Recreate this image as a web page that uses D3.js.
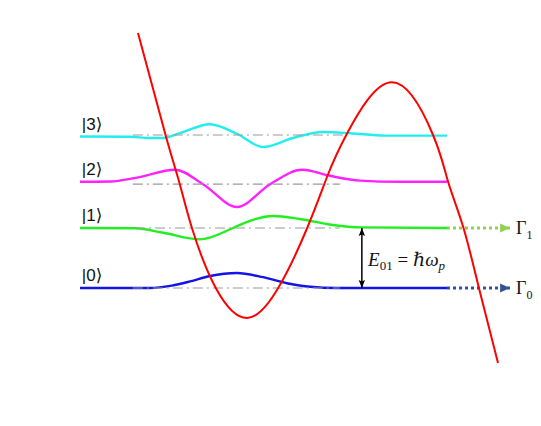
<!DOCTYPE html>
<html>
<head>
<meta charset="utf-8">
<script src="https://cdn.jsdelivr.net/npm/d3@7"></script>
<style>
  body { margin: 0; background: #fff; }
  svg { display: block; }
</style>
</head>
<body>
<div id="chart"></div>
<script>
// position x (arb. units), energy e (units of E01)
var potential = [
    [1.58, 4.25], [2.34, 2.53], [2.72, 1.73], [3.05, 1.0], [3.70, 0.0],
    [4.55, -0.5], [5.40, 0.0], [6.19, 1.0], [6.73, 1.85], [7.28, 2.58],
    [8.50, 3.43], [9.62, 2.55], [10.03, 1.77],
    [10.44, 1.02], [10.87, 0.0], [11.39, -1.25]
];

var levelNames = ["|0\u27E9", "|1\u27E9", "|2\u27E9", "|3\u27E9"];
var levelEnergy = [0, 1.0, 1.73, 2.55];
var levelColors = ["#1414e6", "#22ee22", "#ff22ff", "#22eeee"];
var levelExtent = [[1.44, 7.08], [1.50, 7.08], [1.44, 7.08], [1.44, 7.22]];

var psi0 = [[0, 0], [1.9, 0], [2.5, 0.04], [3.0, 0.11], [3.54, 0.20], [4.28, 0.25],
    [4.99, 0.18], [5.64, 0.08], [6.27, 0.02], [7.0, 0], [10, 0]];
var psi1 = [[0, 1], [1.50, 0.995], [2.27, 0.92], [3.27, 0.81], [4.17, 1.0], [4.63, 1.12],
    [5.26, 1.20], [5.99, 1.15], [6.89, 1.05], [7.63, 1.01], [10, 1]];
var psi2 = [[0, 1.77], [0.82, 1.775], [1.55, 1.84], [2.59, 1.97], [3.35, 1.73], [4.28, 1.35],
    [5.18, 1.73], [6.05, 1.97], [6.81, 1.87], [7.63, 1.79], [8.72, 1.77], [10, 1.77]];
var psi3 = [[0, 2.525], [1.36, 2.52], [1.91, 2.50], [2.26, 2.50], [2.72, 2.58], [3.54, 2.73],
    [4.28, 2.57], [4.99, 2.35], [5.80, 2.50], [6.62, 2.60], [7.36, 2.58], [8.31, 2.54], [10, 2.54]];
var wavefunctions = [psi0, psi1, psi2, psi3];

// tunnelling arrows
var gammaLevels = [0, 1];
var gammaColors = ["#2f5597", "#92d050"];
var gammaStart = 10, gammaEnd = 11.72;

var width = 541, height = 426;

var x = d3.scaleLinear().domain([0, 10]).range([80, 447]);
var y = d3.scaleLinear().domain([0, 1]).range([288, 228]);

var svg = d3.select("#chart").append("svg")
    .attr("width", width)
    .attr("height", height);

var defs = svg.append("defs");

// black arrowhead for E01
defs.append("marker")
    .attr("id", "blackhead")
    .attr("viewBox", "0 0 10 10")
    .attr("refX", 10).attr("refY", 5)
    .attr("markerUnits", "userSpaceOnUse")
    .attr("markerWidth", 8).attr("markerHeight", 8)
    .attr("orient", "auto-start-reverse")
    .append("path")
    .attr("d", "M0,1 L10,5 L0,9 L2,5 Z")
    .attr("fill", "#000");

gammaColors.forEach(function (c, i) {
    defs.append("marker")
        .attr("id", "ghead" + i)
        .attr("viewBox", "0 0 10 10")
        .attr("refX", 10).attr("refY", 5)
        .attr("markerUnits", "userSpaceOnUse")
        .attr("markerWidth", 10).attr("markerHeight", 10)
        .attr("orient", "auto")
        .append("path")
        .attr("d", "M0,0.5 L10,5 L0,9.5 Z")
        .attr("fill", c);
});

var waveLine = d3.line()
    .x(function (d) { return x(d[0]); })
    .y(function (d) { return y(d[1]); })
    .curve(d3.curveMonotoneX);

var potLine = d3.line()
    .x(function (d) { return x(d[0]); })
    .y(function (d) { return y(d[1]); })
    .curve(d3.curveNatural);

// wavefunctions
svg.selectAll(".psi")
    .data(wavefunctions)
    .enter().append("path")
    .attr("class", "psi")
    .attr("d", waveLine)
    .attr("fill", "none")
    .attr("stroke", function (d, i) { return levelColors[i]; })
    .attr("stroke-width", 2.4);

// dash-dot energy levels
svg.selectAll(".level")
    .data(levelEnergy)
    .enter().append("line")
    .attr("class", "level")
    .attr("x1", function (d, i) { return x(levelExtent[i][0]); })
    .attr("x2", function (d, i) { return x(levelExtent[i][1]); })
    .attr("y1", function (d) { return y(d); })
    .attr("y2", function (d) { return y(d); })
    .attr("stroke", "#9a9a9a")
    .attr("stroke-width", 1.2)
    .attr("stroke-dasharray", "10,4,2,4");

// state labels
svg.selectAll(".label")
    .data(levelNames)
    .enter().append("text")
    .attr("class", "label")
    .attr("x", x(0.05))
    .attr("y", function (d, i) { return y(wavefunctions[i][0][1]) - 7; })
    .style("font-family", "'Liberation Sans', 'DejaVu Sans', sans-serif")
    .style("font-size", "17px")
    .attr("fill", "#111")
    .text(function (d) { return d; });

// decay arrows
svg.selectAll(".gamma")
    .data(gammaLevels)
    .enter().append("line")
    .attr("class", "gamma")
    .attr("x1", x(gammaStart))
    .attr("x2", x(gammaEnd))
    .attr("y1", function (d) { return y(levelEnergy[d]); })
    .attr("y2", function (d) { return y(levelEnergy[d]); })
    .attr("stroke", function (d, i) { return gammaColors[i]; })
    .attr("stroke-width", 3)
    .attr("stroke-dasharray", "3,3")
    .attr("marker-end", function (d, i) { return "url(#ghead" + i + ")"; });

var gammaText = svg.selectAll(".gammatext")
    .data(gammaLevels)
    .enter().append("text")
    .attr("class", "gammatext")
    .attr("x", x(gammaEnd) + 6)
    .attr("y", function (d) { return y(levelEnergy[d]) + 6; })
    .style("font-family", "'Liberation Serif', 'DejaVu Serif', serif")
    .style("font-size", "18px")
    .attr("fill", "#111");
gammaText.append("tspan").text("\u0393");
gammaText.append("tspan")
    .attr("dy", 5)
    .style("font-size", "12px")
    .text(function (d) { return d; });

// potential
svg.append("path")
    .datum(potential)
    .attr("d", potLine)
    .attr("fill", "none")
    .attr("stroke", "#ff0000")
    .attr("stroke-width", 2);

// E01 arrow
var arrowX = 7.68;
svg.append("line")
    .attr("x1", x(arrowX)).attr("x2", x(arrowX))
    .attr("y1", y(levelEnergy[1])).attr("y2", y(levelEnergy[0]))
    .attr("stroke", "#000")
    .attr("stroke-width", 1.5)
    .attr("marker-start", "url(#blackhead)")
    .attr("marker-end", "url(#blackhead)");

var eText = svg.append("text")
    .attr("x", x(7.85))
    .attr("y", y(0.36))
    .style("font-family", "'Liberation Serif', 'DejaVu Serif', serif")
    .style("font-size", "19px")
    .attr("fill", "#111");
eText.append("tspan").style("font-style", "italic").text("E");
eText.append("tspan").attr("dy", 4).style("font-size", "13px").text("01");
eText.append("tspan").attr("dy", -4).text(" = ");
eText.append("tspan").style("font-style", "italic").text("\u210F\u03C9");
eText.append("tspan").attr("dy", 4).style("font-size", "13px").style("font-style", "italic").text("p");
</script>
</body>
</html>
